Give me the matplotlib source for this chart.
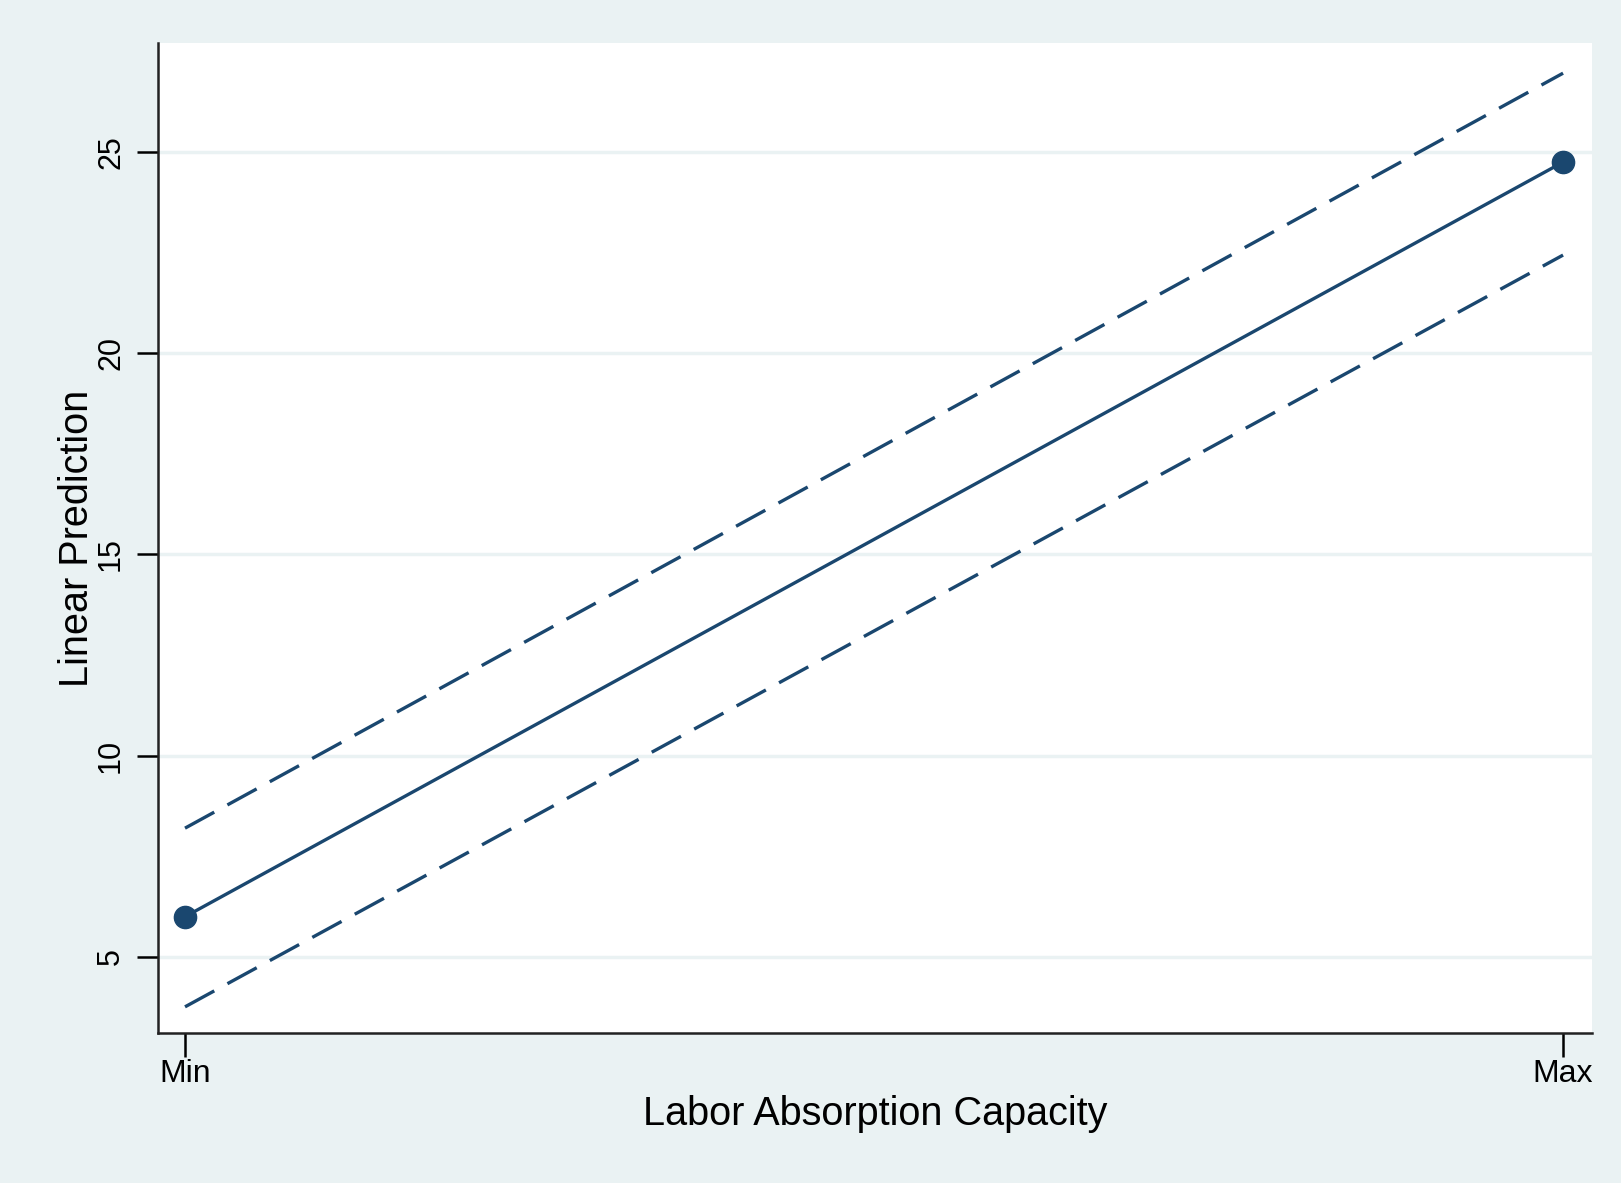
import numpy as np
import matplotlib.pyplot as plt

# margins plot: Labor Absorption Capacity at Min / Max
x_pos = [0, 1]
x_labels = ["Min", "Max"]
pred = [6.0, 24.75]
ci_low = [3.76, 22.44]
ci_high = [8.2, 26.96]

bg = "#eaf2f3"
navy = "#1a476f"

plt.rcParams['font.family'] = ['Liberation Sans', 'DejaVu Sans']

fig = plt.figure(figsize=(16.21, 11.83), dpi=100, facecolor=bg)
ax = fig.add_axes([158/1621, 1 - 1033/1183, (1592-158)/1621, (1033-43)/1183])
ax.set_facecolor("white")

ax.plot(x_pos, ci_high, color=navy, lw=2.4, ls=(0, (10, 4.5)), zorder=3)
ax.plot(x_pos, ci_low, color=navy, lw=2.4, ls=(0, (10, 4.5)), zorder=3)
ax.plot(x_pos, pred, color=navy, lw=2.4, marker="o", ms=16, zorder=4)

ax.set_xlim(-0.0196, 1.021)
ax.set_ylim(3.11, 27.71)
ax.set_yticks([5, 10, 15, 20, 25])
ax.set_xticks(x_pos)
ax.set_xticklabels(x_labels)
ax.grid(axis="y", color=bg, lw=2.5, zorder=0)
ax.set_axisbelow(True)

for s in ["top", "right"]:
    ax.spines[s].set_visible(False)
for s in ["left", "bottom"]:
    ax.spines[s].set_linewidth(1.8)
    ax.spines[s].set_color("#222222")

ax.tick_params(axis="y", labelrotation=90, length=15, width=1.8, labelsize=22, pad=8)
ax.tick_params(axis="x", length=17, width=1.8, labelsize=23, pad=2)
for t in ax.get_yticklabels():
    t.set_va("center")

ax.set_xlabel("Labor Absorption Capacity", fontsize=28.5, labelpad=4)
ax.set_ylabel("Linear Prediction", fontsize=28.5, labelpad=0)

fig.savefig("out.png", dpi=100, facecolor=bg)
